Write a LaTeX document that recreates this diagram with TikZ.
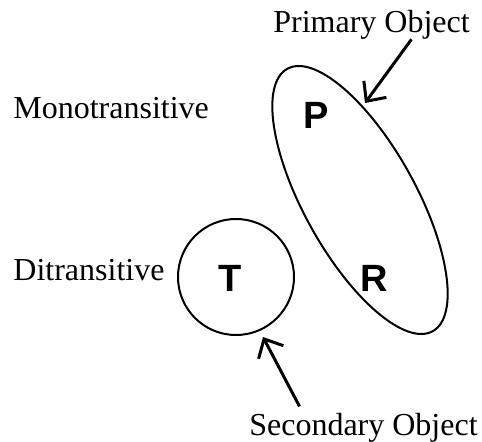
\documentclass[tikz,border=0pt]{standalone}
\usepackage{fontspec}
\setmainfont{Liberation Serif}
\newfontfamily\letterfont{Liberation Sans}
\usetikzlibrary{shapes.geometric,arrows.meta}
\tikzstyle{arrow} = [line width=1.5pt,-{Straight Barb[length=7.5pt,width=14pt]}]
\tikzstyle{word} = [inner sep=0pt, font=\fontsize{16}{19}\selectfont]
\tikzstyle{role} = [inner sep=0pt, font=\letterfont\bfseries\fontsize{19}{22}\selectfont]
\tikzstyle{group} = [draw=black, line width=1pt, inner sep=0pt]

\begin{document}
\begin{tikzpicture}[x=0.5pt,y=0.5pt]
\useasboundingbox (0,0) rectangle (482,441);
\node (mono) [word, anchor=base west] at (13,323) {Monotransitive};
\node (ditr) [word, anchor=base west] at (13,161) {Ditransitive};
\node (prim) [word, anchor=base] at (371.5,409) {Primary Object};
\node (sec) [word, anchor=base] at (363.5,6) {Secondary Object};
\node (pr) [group, ellipse, minimum width=150pt, minimum height=56pt, rotate=-61] at (360,241) {};
\node (tset) [group, circle, minimum size=58pt] at (236,164) {};
\node (P) [role] at (316.5,326) {P};
\node (T) [role] at (230,163) {T};
\node (R) [role] at (374,163) {R};
\coordinate (ptip) at (365,338);
\coordinate (stip) at (263,104);
\draw[arrow] ([xshift=20pt]prim.south) -- (ptip);
\draw[arrow] ([xshift=-32pt,yshift=3pt]sec.north) -- (stip);
\end{tikzpicture}
\end{document}
